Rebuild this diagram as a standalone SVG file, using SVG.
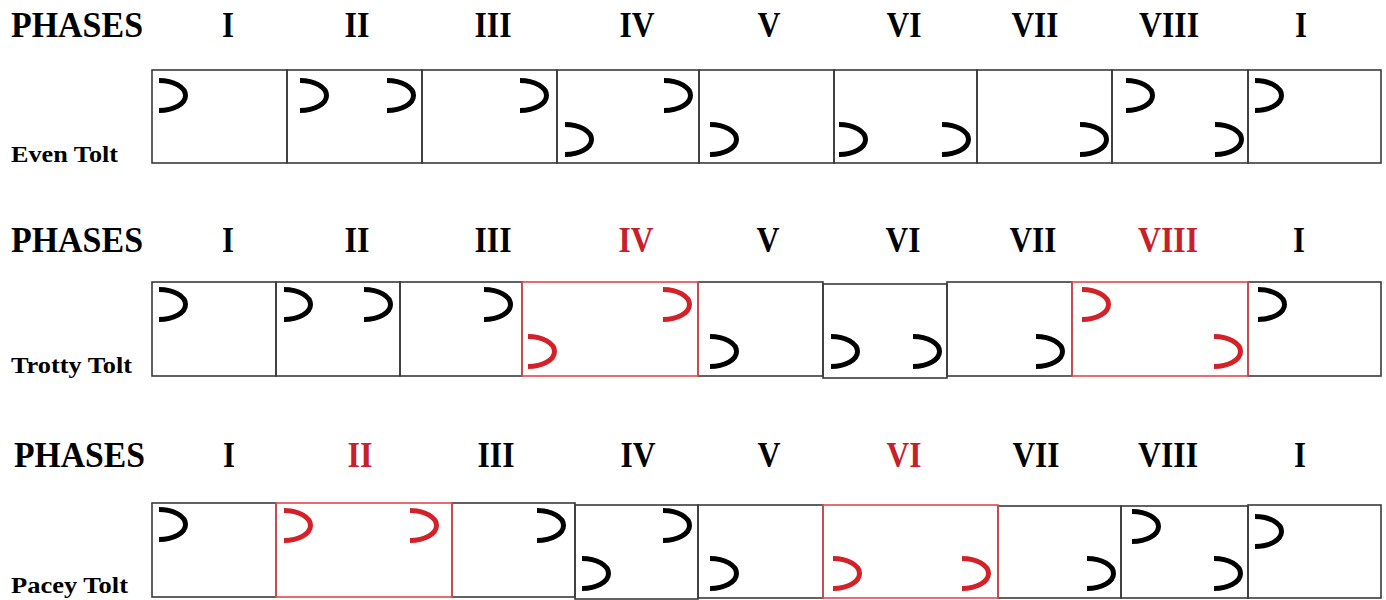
<svg xmlns="http://www.w3.org/2000/svg" xmlns:xlink="http://www.w3.org/1999/xlink" width="1386" height="600" viewBox="0 0 1386 600">
<style>
.bg{fill:#ffffff}
.box{fill:none;stroke:#3a3a3a;stroke-width:1.6}
.rbox{fill:none;stroke:#e0484e;stroke-width:1.6}
.shoe{fill:none;stroke:#000000;stroke-width:5}
.rshoe{fill:none;stroke:#d3212a;stroke-width:5}
.ph{font-family:"Liberation Serif","Times New Roman",serif;font-weight:bold;font-size:36px;fill:#000}
.num{font-family:"Liberation Serif","Times New Roman",serif;font-weight:bold;font-size:36px;fill:#000;text-anchor:middle}
.red{fill:#c8202a}
.lbl{font-family:"Liberation Serif","Times New Roman",serif;font-weight:bold;font-size:24px;fill:#000}
</style>
<defs>
<path id="shoe" d="M2,2.5 A26.5,15 0 0 1 2,32.5"/>
</defs>
<rect class="bg" x="0" y="0" width="1386" height="600"/>

<!-- Row 1: Even Tolt -->
<g id="row1-header">
<text class="ph" x="11" y="37" textLength="132" lengthAdjust="spacingAndGlyphs">PHASES</text>
<text class="num" x="228" y="37" textLength="12" lengthAdjust="spacingAndGlyphs">I</text>
<text class="num" x="357" y="37" textLength="25" lengthAdjust="spacingAndGlyphs">II</text>
<text class="num" x="493" y="37" textLength="37" lengthAdjust="spacingAndGlyphs">III</text>
<text class="num" x="637" y="37" textLength="35" lengthAdjust="spacingAndGlyphs">IV</text>
<text class="num" x="769" y="37" textLength="23" lengthAdjust="spacingAndGlyphs">V</text>
<text class="num" x="904" y="37" textLength="35" lengthAdjust="spacingAndGlyphs">VI</text>
<text class="num" x="1035" y="37" textLength="47" lengthAdjust="spacingAndGlyphs">VII</text>
<text class="num" x="1169" y="37" textLength="60" lengthAdjust="spacingAndGlyphs">VIII</text>
<text class="num" x="1301" y="37" textLength="12" lengthAdjust="spacingAndGlyphs">I</text>
</g>
<text id="label-even" class="lbl" x="11" y="162" textLength="107" lengthAdjust="spacingAndGlyphs">Even Tolt</text>
<g id="even-1"><rect class="box" x="152" y="70" width="135" height="93"/><use href="#shoe" class="shoe" x="157" y="78"/></g>
<g id="even-2"><rect class="box" x="287" y="70" width="135" height="93"/><use href="#shoe" class="shoe" x="298" y="78"/><use href="#shoe" class="shoe" x="385" y="78"/></g>
<g id="even-3"><rect class="box" x="422" y="70" width="135" height="93"/><use href="#shoe" class="shoe" x="518" y="78"/></g>
<g id="even-4"><rect class="box" x="557" y="70" width="142" height="93"/><use href="#shoe" class="shoe" x="563" y="122"/><use href="#shoe" class="shoe" x="662" y="78"/></g>
<g id="even-5"><rect class="box" x="699" y="70" width="135" height="93"/><use href="#shoe" class="shoe" x="708" y="122"/></g>
<g id="even-6"><rect class="box" x="834" y="70" width="143" height="93"/><use href="#shoe" class="shoe" x="837" y="122"/><use href="#shoe" class="shoe" x="940" y="122"/></g>
<g id="even-7"><rect class="box" x="977" y="70" width="135" height="93"/><use href="#shoe" class="shoe" x="1078" y="122"/></g>
<g id="even-8"><rect class="box" x="1112" y="70" width="136" height="93"/><use href="#shoe" class="shoe" x="1124" y="78"/><use href="#shoe" class="shoe" x="1213" y="122"/></g>
<g id="even-9"><rect class="box" x="1248" y="70" width="133" height="93"/><use href="#shoe" class="shoe" x="1253" y="78"/></g>

<!-- Row 2: Trotty Tolt -->
<g id="row2-header">
<text class="ph" x="11" y="252" textLength="132" lengthAdjust="spacingAndGlyphs">PHASES</text>
<text class="num" x="228" y="252" textLength="12" lengthAdjust="spacingAndGlyphs">I</text>
<text class="num" x="357" y="252" textLength="25" lengthAdjust="spacingAndGlyphs">II</text>
<text class="num" x="493" y="252" textLength="37" lengthAdjust="spacingAndGlyphs">III</text>
<text class="num red" x="636" y="252" textLength="35" lengthAdjust="spacingAndGlyphs">IV</text>
<text class="num" x="768" y="252" textLength="23" lengthAdjust="spacingAndGlyphs">V</text>
<text class="num" x="903" y="252" textLength="35" lengthAdjust="spacingAndGlyphs">VI</text>
<text class="num" x="1033" y="252" textLength="47" lengthAdjust="spacingAndGlyphs">VII</text>
<text class="num red" x="1168" y="252" textLength="60" lengthAdjust="spacingAndGlyphs">VIII</text>
<text class="num" x="1299" y="252" textLength="12" lengthAdjust="spacingAndGlyphs">I</text>
</g>
<text id="label-trotty" class="lbl" x="11" y="373" textLength="121" lengthAdjust="spacingAndGlyphs">Trotty Tolt</text>
<g id="trotty-1"><rect class="box" x="152" y="282" width="124" height="94"/><use href="#shoe" class="shoe" x="157" y="287"/></g>
<g id="trotty-2"><rect class="box" x="276" y="282" width="124" height="94"/><use href="#shoe" class="shoe" x="282" y="287"/><use href="#shoe" class="shoe" x="362" y="287"/></g>
<g id="trotty-3"><rect class="box" x="400" y="282" width="122" height="94"/><use href="#shoe" class="shoe" x="482" y="287"/></g>
<g id="trotty-5"><rect class="box" x="698" y="282" width="125" height="94"/><use href="#shoe" class="shoe" x="708" y="334"/></g>
<g id="trotty-6"><rect class="box" x="823" y="284" width="124" height="94"/><use href="#shoe" class="shoe" x="829" y="334"/><use href="#shoe" class="shoe" x="911" y="334"/></g>
<g id="trotty-7"><rect class="box" x="947" y="282" width="125" height="94"/><use href="#shoe" class="shoe" x="1034" y="334"/></g>
<g id="trotty-9"><rect class="box" x="1248" y="282" width="133" height="94"/><use href="#shoe" class="shoe" x="1256" y="287"/></g>
<g id="trotty-4"><rect class="rbox" x="522" y="282" width="176" height="94"/><use href="#shoe" class="rshoe" x="526" y="334"/><use href="#shoe" class="rshoe" x="661" y="287"/></g>
<g id="trotty-8"><rect class="rbox" x="1072" y="282" width="176" height="94"/><use href="#shoe" class="rshoe" x="1080" y="287"/><use href="#shoe" class="rshoe" x="1212" y="334"/></g>

<!-- Row 3: Pacey Tolt -->
<g id="row3-header">
<text class="ph" x="14" y="467" textLength="131" lengthAdjust="spacingAndGlyphs">PHASES</text>
<text class="num" x="229" y="467" textLength="12" lengthAdjust="spacingAndGlyphs">I</text>
<text class="num red" x="360" y="467" textLength="25" lengthAdjust="spacingAndGlyphs">II</text>
<text class="num" x="496" y="467" textLength="37" lengthAdjust="spacingAndGlyphs">III</text>
<text class="num" x="638" y="467" textLength="35" lengthAdjust="spacingAndGlyphs">IV</text>
<text class="num" x="769" y="467" textLength="23" lengthAdjust="spacingAndGlyphs">V</text>
<text class="num red" x="904" y="467" textLength="35" lengthAdjust="spacingAndGlyphs">VI</text>
<text class="num" x="1036" y="467" textLength="47" lengthAdjust="spacingAndGlyphs">VII</text>
<text class="num" x="1168" y="467" textLength="60" lengthAdjust="spacingAndGlyphs">VIII</text>
<text class="num" x="1300" y="467" textLength="12" lengthAdjust="spacingAndGlyphs">I</text>
</g>
<text id="label-pacey" class="lbl" x="11" y="593" textLength="117" lengthAdjust="spacingAndGlyphs">Pacey Tolt</text>
<g id="pacey-1"><rect class="box" x="152" y="503" width="124" height="94"/><use href="#shoe" class="shoe" x="157" y="507"/></g>
<g id="pacey-3"><rect class="box" x="452" y="503" width="123" height="94"/><use href="#shoe" class="shoe" x="535" y="508"/></g>
<g id="pacey-4"><rect class="box" x="575" y="505" width="123" height="94"/><use href="#shoe" class="shoe" x="661" y="508"/><use href="#shoe" class="shoe" x="580" y="556"/></g>
<g id="pacey-5"><rect class="box" x="698" y="505" width="125" height="93"/><use href="#shoe" class="shoe" x="708" y="556"/></g>
<g id="pacey-7"><rect class="box" x="998" y="506" width="123" height="92"/><use href="#shoe" class="shoe" x="1085" y="556"/></g>
<g id="pacey-8"><rect class="box" x="1121" y="506" width="127" height="92"/><use href="#shoe" class="shoe" x="1130" y="509"/><use href="#shoe" class="shoe" x="1212" y="556"/></g>
<g id="pacey-9"><rect class="box" x="1248" y="505" width="133" height="93"/><use href="#shoe" class="shoe" x="1253" y="514"/></g>
<g id="pacey-2"><rect class="rbox" x="276" y="503" width="176" height="94"/><use href="#shoe" class="rshoe" x="282" y="508"/><use href="#shoe" class="rshoe" x="408" y="508"/></g>
<g id="pacey-6"><rect class="rbox" x="823" y="505" width="175" height="93"/><use href="#shoe" class="rshoe" x="831" y="556"/><use href="#shoe" class="rshoe" x="960" y="556"/></g>
</svg>
